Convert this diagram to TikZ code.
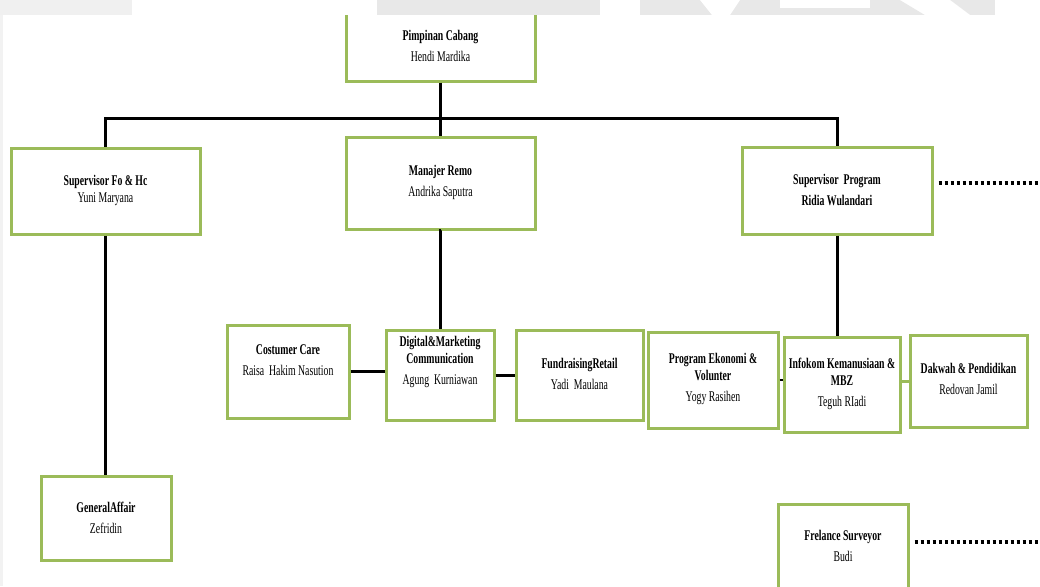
\documentclass[tikz,border=0pt]{standalone}
\usepackage{fontspec}
\newfontfamily\orgfont[FakeStretch=0.66]{Liberation Serif}
\usetikzlibrary{calc}
\definecolor{boxgreen}{HTML}{9BBB59}
\begin{document}
\begin{tikzpicture}[x=1pt,y=-1pt,
  box/.style={draw=boxgreen,line width=3pt,fill=white,inner sep=0pt},
  txt/.style={align=center,inner sep=0pt,font=\orgfont\fontsize{14.8}{17}\selectfont},
  conn/.style={line width=3pt,black},
  dotline/.style={line width=4pt,dash pattern=on 3pt off 3pt}]
\useasboundingbox (0,0) rectangle (1040,586);
\clip (0,0) rectangle (1040,586);
% boxes
\node[box,minimum width=189pt,minimum height=91pt] (pim) at (440.5,35.5) {};
\node[box,minimum width=189pt,minimum height=86pt] (fo) at (105.5,191) {};
\node[box,minimum width=189pt,minimum height=92pt] (remo) at (440.5,183) {};
\node[box,minimum width=190pt,minimum height=87pt] (sp) at (837,190.5) {};
\node[box,minimum width=122pt,minimum height=93pt] (cc) at (288,371.5) {};
\node[box,minimum width=108pt,minimum height=90pt] (dig) at (440,375) {};
\node[box,minimum width=127pt,minimum height=90pt] (fr) at (579.5,375) {};
\node[box,minimum width=130pt,minimum height=96pt] (ek) at (713,380) {};
\node[box,minimum width=116pt,minimum height=95pt] (ik) at (842,384.5) {};
\node[box,minimum width=117pt,minimum height=92pt] (dk) at (968.5,381) {};
\node[box,minimum width=130pt,minimum height=84pt] (ga) at (106,518) {};
\node[box,minimum width=130pt,minimum height=106pt] (fl) at (843,557) {};
% texts
\node[txt] (pimT) at (440.5,45.5) {\textbf{Pimpinan Cabang}\\[4pt]Hendi Mardika};
\node[txt] (foT) at (105.5,190.5) {\textbf{Supervisor Fo \& Hc}\\Yuni Maryana};
\node[txt] (remoT) at (440.5,182) {\textbf{Manajer Remo}\\[4pt]Andrika Saputra};
\node[txt] (spT) at (837,189.5) {\textbf{Supervisor\ \ Program}\\[4pt]\textbf{Ridia Wulandari}};
\node[txt] (ccT) at (288,360) {\textbf{Costumer Care}\\[4pt]Raisa\ \ Hakim Nasution};
\node[txt] (digT) at (440,362) {\textbf{Digital\&Marketing}\\\textbf{Communication}\\[4pt]Agung\ \ Kurniawan};
\node[txt] (frT) at (579.5,374) {\textbf{FundraisingRetail}\\[4pt]Yadi\ \ Maulana};
\node[txt] (ekT) at (713,379) {\textbf{Program Ekonomi \&}\\\textbf{Volunter}\\[4pt]Yogy Rasihen};
\node[txt] (ikT) at (842,384) {\textbf{Infokom Kemanusiaan \&}\\\textbf{MBZ}\\[4pt]Teguh RIadi};
\node[txt] (dkT) at (968.5,379) {\textbf{Dakwah \& Pendidikan}\\[4pt]Redovan Jamil};
\node[txt] (gaT) at (106,518) {\textbf{GeneralAffair}\\[4pt]Zefridin};
\node[txt] (flT) at (843,546) {\textbf{Frelance Surveyor}\\[4pt]Budi};
% connectors
\coordinate (bus) at (440.5,118);
\draw[conn] (pim.south) -- (bus);
\draw[conn] (fo.north) |- (bus) -| (sp.north);
\draw[conn] (bus) -- (remo.north);
\draw[conn] (fo.south) -- (fo.south |- ga.north);
\draw[conn] (remo.south) -- (remo.south -| dig.north) -- (dig.north);
\draw[conn] (sp.south) -- (sp.south |- ik.north);
\draw[conn] (cc.east) -- (cc.east -| dig.west);
\draw[conn] (dig.east) -- (fr.west);
\draw[line width=2pt] (ek.east) -- (ek.east -| ik.west);
\draw[line width=3pt,boxgreen] (dk.west -| ik.east) -- (dk.west);
\coordinate (dotEndA) at (1040,183);
\coordinate (dotEndB) at (1040,542);
\draw[dotline] ($(sp.east |- dotEndA)+(5,0)$) -- (dotEndA);
\draw[dotline] ($(fl.east |- dotEndB)+(5,0)$) -- (dotEndB);
% top strip (cropped watermark)
\fill[white] (0,0) rectangle (1040,15);
\fill[gray!12] (0,0) rectangle (132,15);
\fill[gray!18] (377,0) rectangle (995,15);
\fill[white] (600,0) rectangle (640,15);
\fill[white] (700,0) -- (740,0) -- (730,15) -- (712,15) -- cycle;
\fill[white] (780,0) rectangle (870,8);
\fill[white] (900,0) -- (950,0) -- (970,15) -- (925,15) -- cycle;
\fill[gray!10] (0,15) rectangle (3,586);
\end{tikzpicture}
\end{document}
